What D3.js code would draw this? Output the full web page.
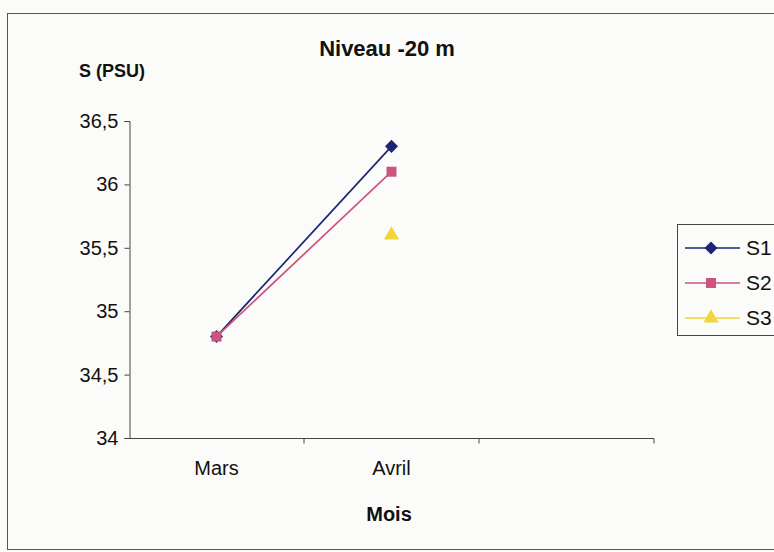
<!DOCTYPE html>
<html>
<head>
<meta charset="utf-8">
<script src="https://cdn.jsdelivr.net/npm/d3@7"></script>
<style>
  html, body { margin: 0; padding: 0; background: #fbfbf9; }
  svg { display: block; }
  text { font-family: "Liberation Sans", Arial, sans-serif; fill: #111; }
</style>
</head>
<body>
<svg id="chart" width="774" height="552"></svg>
<script>
// Salinity at -20 m, by month and station
const months = ["Mars", "Avril"];
const slots = ["Mars", "Avril", "_"];          // third category slot is left empty
const yTicks = [34, 34.5, 35, 35.5, 36, 36.5];
const s1 = [34.8, 36.3];
const s2 = [34.8, 36.1];
const s3 = [null, 35.6];
const seriesNames = ["S1", "S2", "S3"];
const seriesColors = ["#1c2573", "#cc5580", "#f2d43c"];

// marker shapes: rotated square (diamond), square, triangle
const markers = {
  S1: { type: d3.symbolSquare, size: 85, rotate: 45 },
  S2: { type: d3.symbolSquare, size: 100, rotate: 0 },
  S3: { type: d3.symbolTriangle, size: 100, rotate: 0 }
};

const series = [s1, s2, s3].map((vals, i) => ({
  name: seriesNames[i], color: seriesColors[i],
  points: vals.map((v, j) => ({ month: months[j], value: v }))
}));

const svg = d3.select("#chart");

// outer frame
svg.append("rect").attr("x", 7.5).attr("y", 13.5).attr("width", 800).attr("height", 536)
  .attr("fill", "none").attr("stroke", "#555").attr("stroke-width", 1);

const x = d3.scaleBand().domain(slots).range([129, 654]).padding(0);
const y = d3.scaleLinear().domain([34, 36.5]).range([438, 121]);

// y axis
const yAxis = d3.axisLeft(y).tickValues(yTicks).tickSize(5).tickPadding(6)
  .tickFormat(d => d3.format(".1~f")(d).replace(".", ","));
const gy = svg.append("g").attr("transform", "translate(129.5,0)").call(yAxis);
gy.select(".domain").attr("stroke", "#444");
gy.selectAll(".tick line").attr("stroke", "#444");
gy.selectAll(".tick text").style("font-size", "20px").attr("fill", "#111");

// x axis: ticks at category boundaries, labels centred in each slot
const gx = svg.append("g").attr("transform", "translate(0,438.5)");
gx.append("line").attr("x1", x.range()[0]).attr("x2", x.range()[1])
  .attr("stroke", "#444");
gx.selectAll("line.tk").data(slots).join("line").attr("class", "tk")
  .attr("x1", d => x(d) + x.bandwidth()).attr("x2", d => x(d) + x.bandwidth())
  .attr("y1", 0).attr("y2", 5).attr("stroke", "#444");
gx.selectAll("text").data(months).join("text")
  .attr("x", d => x(d) + x.bandwidth() / 2).attr("y", 36)
  .attr("text-anchor", "middle").style("font-size", "20px").text(d => d);

// titles
svg.append("text").attr("x", 387).attr("y", 56).attr("text-anchor", "middle")
  .style("font-size", "22px").style("font-weight", "bold").text("Niveau -20 m");
svg.append("text").attr("x", 79).attr("y", 77)
  .style("font-size", "18px").style("font-weight", "bold").text("S (PSU)");
svg.append("text").attr("x", 389).attr("y", 521).attr("text-anchor", "middle")
  .style("font-size", "20px").style("font-weight", "bold").text("Mois");

// series lines and markers
const cx = d => x(d.month) + x.bandwidth() / 2;
const line = d3.line().defined(d => d.value != null).x(cx).y(d => y(d.value));
const symbolPath = name => d3.symbol().type(markers[name].type).size(markers[name].size)();

series.forEach(s => {
  svg.append("path").datum(s.points).attr("d", line)
    .attr("fill", "none").attr("stroke", s.color).attr("stroke-width", 1.7);
});
series.forEach(s => {
  svg.selectAll(null).data(s.points.filter(p => p.value != null)).join("path")
    .attr("transform", d => `translate(${cx(d)},${y(d.value)}) rotate(${markers[s.name].rotate})`)
    .attr("d", symbolPath(s.name))
    .attr("fill", s.color);
});

// legend
const lg = svg.append("g");
lg.append("rect").attr("x", 677.5).attr("y", 224.5).attr("width", 120).attr("height", 111)
  .attr("fill", "none").attr("stroke", "#444");
series.forEach((s, i) => {
  const ly = 248 + i * 35;
  lg.append("line").attr("x1", 685).attr("x2", 740).attr("y1", ly).attr("y2", ly)
    .attr("stroke", s.color).attr("stroke-width", 1.7);
  lg.append("path").attr("transform", `translate(711,${ly}) rotate(${markers[s.name].rotate})`)
    .attr("d", symbolPath(s.name)).attr("fill", s.color);
  lg.append("text").attr("x", 746).attr("y", ly + 7).style("font-size", "21px").text(s.name);
});
</script>
</body>
</html>
